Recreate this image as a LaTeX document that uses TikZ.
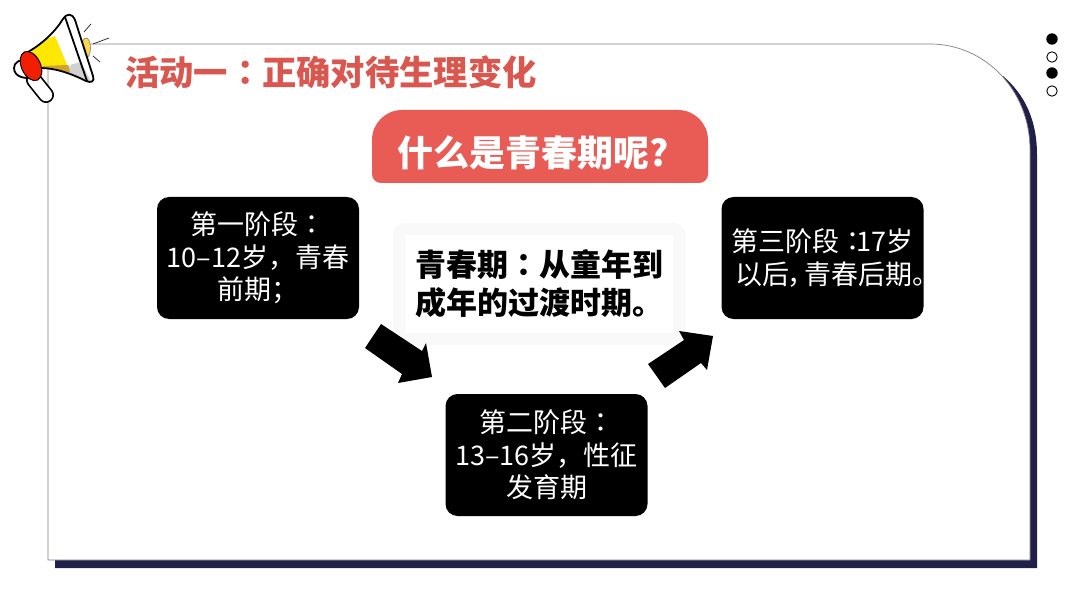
\documentclass[tikz,border=0pt]{standalone}
\usepackage{fontspec}
\setmainfont{Noto Sans CJK SC}
\newfontfamily\tcfont{Noto Sans CJK TC}
\newcommand{\cncolon}{{\tcfont ：}}
\definecolor{cardshadow}{HTML}{1F1F4A}
\definecolor{titlered}{HTML}{D9574F}
\definecolor{bubblered}{HTML}{E85C55}
\definecolor{softgray}{HTML}{F9F9F9}
\tikzset{
  stagebox/.style={fill=black, text=white, rounded corners=12, minimum width=202, minimum height=122,
    inner sep=0pt, align=center, font=\fontsize{27}{32.5}\selectfont},
  softbox/.style={fill=white, draw=softgray, line width=12, rounded corners=6, minimum width=280, minimum height=110,
    inner sep=0pt, align=center, text=black, font=\bfseries\fontsize{31}{38}\selectfont},
  flowarrow/.style={fill=black},
  tickline/.style={line width=0.8, black!80},
  hornline/.style={line width=1.8, black, line join=round},
}
\begin{document}
\begin{tikzpicture}[x=1pt, y=-1pt]
    \useasboundingbox (0,0) rectangle (1080,607);

    % --- 1. card and its shadow ---
    \fill[cardshadow] (1003,76) .. controls (1025,95) and (1037,120) .. (1037,155)
        -- (1037,568) -- (55,568) -- (55,555) -- (1000,555) -- cycle;
    \draw[fill=white, draw=gray, line width=0.7] (48,44) -- (930,44)
        .. controls (985,44) and (1030,90) .. (1030,150)
        -- (1030,560) -- (48,560) -- cycle;

    % --- 2. dots, top right ---
    \fill (1052,39) circle (5.7);
    \draw[line width=0.9] (1052,57) circle (5.2);
    \fill (1052,73) circle (5.7);
    \draw[line width=0.9] (1052,91) circle (5.2);

    % --- 3. megaphone ---
    \fill[white] (0,0) rectangle (47,110);
    \fill[white] (0,0) rectangle (100,43);
    \draw[tickline] (84,32) -- (91,24);
    \draw[tickline] (93,44) -- (109,38);
    \draw[tickline] (93,56) -- (100,62);
    \draw[fill=yellow!60!orange!70, draw=gray, line width=0.6] (86,48) ellipse (4.5 and 10);
    \draw[line width=16, line cap=round] (34,80) -- (46,95);
    \draw[white, line width=12.5, line cap=round] (34,80) -- (46,95);
    \draw[hornline, fill=white] (14,68) .. controls (14,62) and (20,60) .. (26,59)
        -- (36,76) .. controls (28,80) and (14,78) .. (14,68) -- cycle;
    \begin{scope}
        \clip (28,52) .. controls (42,44) and (55,32) .. (63,19)
            .. controls (67,13) and (72,13) .. (75,20) -- (93,76)
            .. controls (95,82) and (91,83) .. (86,81)
            .. controls (70,73) and (55,68) .. (40,68) -- cycle;
        \fill[white] (0,0) rectangle (110,110);
        \fill[yellow!90!orange] (30,45) -- (55,36) -- (70,72) -- (36,68) -- cycle;
        \fill[black!18] (43,67) -- (68,65) -- (92,84) -- (40,74) -- cycle;
        \fill[yellow!50!orange!80!black] (43,66) -- (68,65) -- (70,72) -- (43,72) -- cycle;
        \fill[black!18] (70,65) -- (81,62) -- (92,84) -- (75,76) -- cycle;
    \end{scope}
    \draw[hornline] (28,52) .. controls (42,44) and (55,32) .. (63,19)
        .. controls (67,13) and (72,13) .. (75,20) -- (93,76)
        .. controls (95,82) and (91,83) .. (86,81)
        .. controls (70,73) and (55,68) .. (40,68);
    \draw[hornline] (65,17) -- (87,81);
    \draw[line width=1, fill=red!75!orange!95!black, rotate around={25:(31,66)}] (31,66) ellipse (9.5 and 15.5);

    % --- 4. title and bubble ---
    \node[text=titlered, font=\bfseries\fontsize{34.3}{38}\selectfont, anchor=west, inner sep=0pt] (titletext) at (125,72)
        {活动一\cncolon{}正确对待生理变化};
    \fill[bubblered] (540,183) [rounded corners=9] -- (372,183) [rounded corners=30] -- (372,110)
        -- (708,110) [rounded corners=9] -- (708,183) -- cycle;
    \node[text=white, font=\bfseries\fontsize{36}{40}\selectfont, inner sep=0pt] (bubbletext) at (533,153) {什么是青春期呢?};

    % --- 5. boxes ---
    \node[softbox] (defbox) at (539,284) {青春期\cncolon{}从童年到\\成年的过渡时期。};
    \node[stagebox] (stageone) at (258,258) {第一阶段\cncolon\\10–12岁，青春\\前期；};
    \node[stagebox] (stagetwo) at (546.5,455) {第二阶段\cncolon\\13–16岁，性征\\发育期};
    \node[stagebox] (stagethree) at (822.5,258) {第三阶段\cncolon\hspace{-10pt}17岁\\\makebox[175pt][l]{以后\hspace{-2pt}，\hspace{-10pt}青春后期。}};

    % --- 6. arrows ---
    \fill[flowarrow] (381,324) -- (365,348) -- (402,374) -- (398,383) -- (432,377) -- (426,343) -- (422,351) -- cycle;
    \fill[flowarrow] (648,364) -- (665,388) -- (701,363) -- (707,370) -- (713,336) -- (679,331) -- (684,340) -- cycle;
\end{tikzpicture}
\end{document}
